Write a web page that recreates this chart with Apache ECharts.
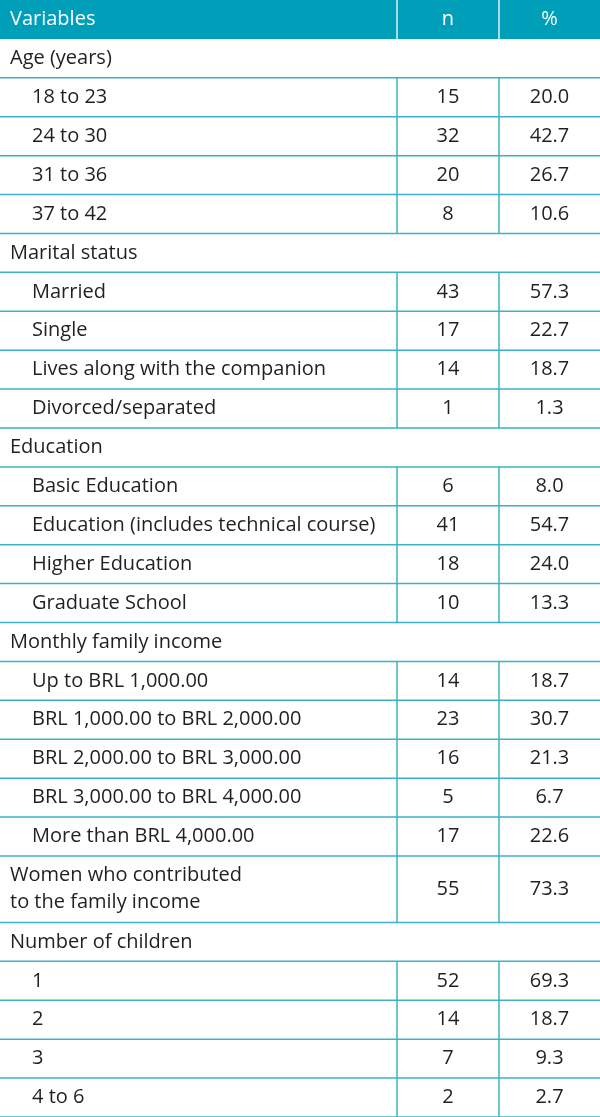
<!DOCTYPE html>
<html><head><meta charset="utf-8">
<script src="https://cdn.jsdelivr.net/npm/echarts@6/dist/echarts.min.js"></script>
<style>html,body{margin:0;padding:0;background:#fff}#c{width:600px;height:1117px}</style>
</head><body><div id="c"></div>
<script>
const headers = ['Variables', 'n', '%'];
const rowLabels = ['Age (years)', '18 to 23', '24 to 30', '31 to 36', '37 to 42',
  'Marital status', 'Married', 'Single', 'Lives along with the companion', 'Divorced/separated',
  'Education', 'Basic Education', 'Education (includes technical course)', 'Higher Education', 'Graduate School',
  'Monthly family income', 'Up to BRL 1,000.00', 'BRL 1,000.00 to BRL 2,000.00', 'BRL 2,000.00 to BRL 3,000.00',
  'BRL 3,000.00 to BRL 4,000.00', 'More than BRL 4,000.00',
  'Women who contributed\nto the family income',
  'Number of children', '1', '2', '3', '4 to 6'];
const rowLevels = [0,1,1,1,1, 0,1,1,1,1, 0,1,1,1,1, 0,1,1,1,1,1, 0, 0,1,1,1,1];
const nValues = [null,15,32,20,8, null,43,17,14,1, null,6,41,18,10, null,14,23,16,5,17, 55, null,52,14,7,2];
const pctValues = [null,20.0,42.7,26.7,10.6, null,57.3,22.7,18.7,1.3, null,8.0,54.7,24.0,13.3, null,18.7,30.7,21.3,6.7,22.6, 73.3, null,69.3,18.7,9.3,2.7];

const HEAD = '#009fb9', LINE = '#3cb1c7', TXT = '#231f20';
const FONT = '"Open Sans"';
const FS = 20;
const HFS = 20;
const colEdges = [0, 397, 499, 600];
const extraLine = 0.71;

// build row extents (row units)
const items = [[-1, 0, 1]];
let yPos = 1;
rowLabels.forEach((lab, i) => {
  const lines = lab.split('\n').length;
  const h = 1 + (lines - 1) * extraLine;
  items.push([i, yPos, yPos + h]);
  yPos += h;
});
const total = yPos;

const chart = echarts.init(document.getElementById('c'), null, {renderer: 'canvas'});
chart.setOption({
  animation: false,
  grid: {left: 0, right: 0, top: 0, bottom: 0},
  xAxis: {type: 'value', min: 0, max: 600, show: false},
  yAxis: {type: 'value', min: 0, max: total, inverse: true, show: false},
  series: [{
    type: 'custom',
    coordinateSystem: 'cartesian2d',
    data: items,
    clip: false,
    renderItem: function (params, api) {
      const idx = api.value(0);
      const y0 = api.coord([0, api.value(1)])[1];
      const y1 = api.coord([0, api.value(2)])[1];
      const xs = colEdges.map(v => api.coord([v, 0])[0]);
      const yc = (y0 + y1) / 2;
      const ch = [];
      if (idx === -1) {
        ch.push({type: 'rect', shape: {x: xs[0], y: y0, width: xs[3] - xs[0], height: y1 - y0}, style: {fill: HEAD}});
        [1, 2].forEach(k => ch.push({type: 'line', shape: {x1: xs[k], y1: y0, x2: xs[k], y2: y1}, style: {stroke: '#ffffff', lineWidth: 1.3}}));
        ch.push({type: 'text', x: xs[0] + 10, y: yc, style: {text: headers[0], fill: '#fff', font: HFS + 'px ' + FONT, textVerticalAlign: 'middle', textAlign: 'left'}});
        ch.push({type: 'text', x: (xs[1] + xs[2]) / 2, y: yc, style: {text: headers[1], fill: '#fff', font: HFS + 'px ' + FONT, textVerticalAlign: 'middle', textAlign: 'center'}});
        ch.push({type: 'text', x: (xs[2] + xs[3]) / 2, y: yc, style: {text: headers[2], fill: '#fff', font: HFS + 'px ' + FONT, textVerticalAlign: 'middle', textAlign: 'center'}});
        return {type: 'group', children: ch};
      }
      const lvl = rowLevels[idx];
      ch.push({type: 'text', x: xs[0] + (lvl ? 32 : 10), y: yc, style: {text: rowLabels[idx], fill: TXT, font: FS + 'px ' + FONT, lineHeight: 27, textVerticalAlign: 'middle', textAlign: 'left'}});
      if (nValues[idx] !== null) {
        ch.push({type: 'text', x: (xs[1] + xs[2]) / 2, y: yc, style: {text: String(nValues[idx]), fill: TXT, font: FS + 'px ' + FONT, textVerticalAlign: 'middle', textAlign: 'center'}});
        ch.push({type: 'text', x: (xs[2] + xs[3]) / 2, y: yc, style: {text: pctValues[idx].toFixed(1), fill: TXT, font: FS + 'px ' + FONT, textVerticalAlign: 'middle', textAlign: 'center'}});
        [1, 2].forEach(k => ch.push({type: 'line', shape: {x1: xs[k], y1: y0, x2: xs[k], y2: y1}, style: {stroke: LINE, lineWidth: 1.5}}));
      }
      ch.push({type: 'line', shape: {x1: xs[0], y1: y1, x2: xs[3], y2: y1}, style: {stroke: LINE, lineWidth: 1.5}});
      return {type: 'group', children: ch};
    }
  }]
});
</script>
</body></html>
